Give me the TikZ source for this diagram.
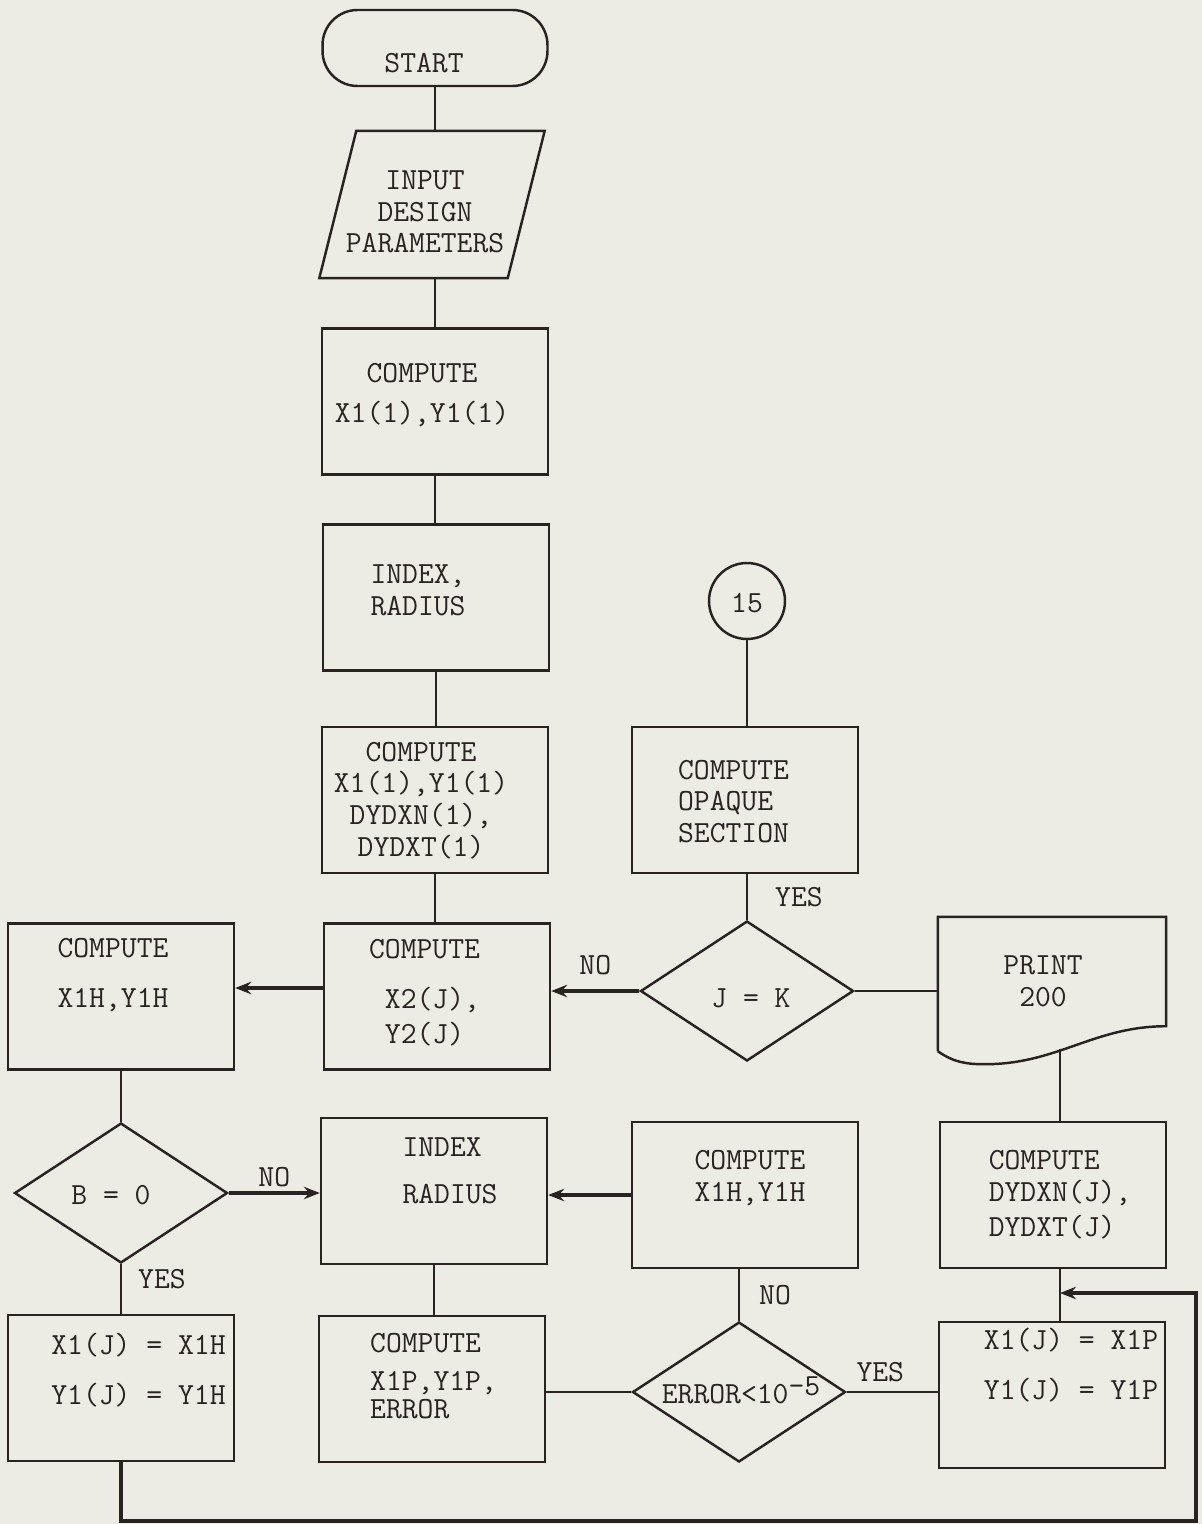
\documentclass[tikz,border=0pt]{standalone}
\usepackage{fontspec}
\usetikzlibrary{shapes.geometric,arrows.meta,positioning}
\definecolor{paper}{RGB}{236,236,228}
\definecolor{ink}{RGB}{40,34,32}
\begin{document}
\begin{tikzpicture}[x=0.02cm, y=-0.02cm, line width=1.4pt, color=ink]
    \tikzstyle{box} = [draw, rectangle, minimum width=4.52cm, minimum height=2.92cm, inner sep=0pt]
    \tikzstyle{dec} = [draw, diamond, minimum width=4.26cm, minimum height=2.8cm, inner sep=0pt]
    \tikzstyle{term} = [draw, rectangle, rounded corners=0.7cm, minimum width=4.5cm, minimum height=1.52cm]
    \tikzstyle{conn} = [draw, circle, minimum size=1.52cm, inner sep=0pt]
    \tikzstyle{blank} = [rectangle, inner sep=0pt]
    \tikzstyle{txt} = [font=\ttfamily\fontsize{17.5}{18}\selectfont, inner sep=0pt, align=center]
    \tikzstyle{ltxt} = [txt, align=left]
    \tikzstyle{lbl} = [font=\ttfamily\fontsize{17.5}{18}\selectfont, inner sep=0pt]
    \tikzstyle{arr} = [-{Stealth[length=9pt,width=7pt]}, line width=1.8pt]
    \fill[paper] (0,0) rectangle (1202,1524);
    % main column
    \node[term] (start) at (435,48) {};
    \node[txt] (startt) at (424,63) {START};
    \node[blank, minimum width=3.72cm, minimum height=2.9cm] (inp) at (432,204.5) {};
    \draw ([xshift=0.37cm]inp.north west) -- ([xshift=0.37cm]inp.north east)
      -- ([xshift=-0.37cm]inp.south east) -- ([xshift=-0.37cm]inp.south west) -- cycle;
    \node[txt] (inpt) at (425,212) {INPUT\\DESIGN\\PARAMETERS};
    \node[box] (b1) at (435,401.5) {};
    \node[txt] (b1t) at (422,395) {COMPUTE\\[4.8pt]X1(1),Y1(1)};
    \node[box] (b2) at (436,597.5) {};
    \node[ltxt] (b2t) at (418,590) {INDEX,\\RADIUS};
    \node[box] (b3) at (435,800) {};
    \node[txt] (b3t) at (421,800.5) {COMPUTE\\X1(1),Y1(1)\\DYDXN(1),\\DYDXT(1)};
    \node[box] (b4) at (437,996.5) {};
    \node[ltxt] (b4t) at (424.5,992.5) {COMPUTE\\[10.5pt]\hphantom{X}X2(J),\\[2pt]\hphantom{X}Y2(J)};
    % left column
    \node[box] (b5) at (121,996.5) {};
    \node[txt] (b5t) at (113,975) {COMPUTE\\[10.5pt]X1H,Y1H};
    \node[dec] (dB) at (121,1193) {};
    \node[txt] (dBt) at (111,1195) {B = 0};
    \node[box] (b7) at (121,1388) {};
    \node[txt] (b7t) at (138.5,1370) {X1(J) = X1H\\[10.5pt]Y1(J) = Y1H};
    % lower row
    \node[box] (b6) at (434,1191) {};
    \node[ltxt] (b6t) at (450,1171) {INDEX\\[8.8pt]RADIUS};
    \node[box] (b8) at (432,1389) {};
    \node[ltxt] (b8t) at (433.5,1376) {COMPUTE\\[4pt]X1P,Y1P,\\[-2pt]ERROR};
    \node[dec] (dE) at (739,1392) {};
    \node[txt] (dEt) at (741,1390) {ERROR<10\raisebox{0.25em}{-5}};
    \node[box] (b9) at (745,1195) {};
    \node[ltxt] (b9t) at (750,1178) {COMPUTE\\X1H,Y1H};
    \node[box] (b10) at (1052,1395) {};
    \node[txt] (b10t) at (1071,1365) {X1(J) = X1P\\[10.5pt]Y1(J) = Y1P};
    \node[box] (b11) at (1053,1195) {};
    \node[ltxt] (b11t) at (1060,1195) {COMPUTE\\DYDXN(J),\\[2pt]DYDXT(J)};
    % right part
    \node[conn] (c15) at (747,601) {};
    \node[txt] (c15t) at (747,603) {15};
    \node[box] (b12) at (745,800) {};
    \node[ltxt] (b12t) at (733.5,801.5) {COMPUTE\\OPAQUE\\SECTION};
    \node[dec] (dJ) at (747,991) {};
    \node[txt] (dJt) at (751,998) {J = K};
    \node[blank, minimum width=4.52cm, minimum height=2.64cm] (prt) at (1052,984) {};
    \draw (prt.south west) -- (prt.north west) -- (prt.north east) -- ([yshift=0.5cm]prt.south east)
      to[out=180,in=0] ([xshift=-1.34cm,yshift=-0.26cm]prt.south) to[out=180,in=-35] (prt.south west);
    \node[txt] (prtt) at (1043,981) {PRINT\\200};
    \coordinate (prtb) at ([xshift=0.16cm,yshift=0.05cm]prt.south);
    \coordinate (join) at (prtb |- 0,1293);
    \coordinate (loopr) at (1196,1521);
    % connectors
    \draw (start.south) -- (start.south |- inp.north);
    \draw (inp.south -| b1.north) -- (b1.north);
    \draw (b1.south) -- (b1.south |- b2.north);
    \draw (b2.south) -- (b2.south |- b3.north);
    \draw (b3.south) -- (b3.south |- b4.north);
    \draw[arr] ([yshift=0.17cm]b4.west) -- ([yshift=0.17cm]b4.west -| b5.east);
    \draw (b5.south) -- (dB.north);
    \draw[arr] (dB.east) -- node[lbl, above=0.1cm] {NO} (dB.east -| b6.west);
    \draw (dB.south) -- node[lbl, right=0.32cm, pos=0.3] {YES} (b7.north);
    \draw (b6.south) -- (b6.south |- b8.north);
    \draw (dE.west -| b8.east) -- (dE.west);
    \draw (dE.east) -- node[lbl, above=0.18cm, xshift=-0.24cm] {YES} (dE.east -| b10.west);
    \draw[arr] (b9.west) -- (b9.west -| b6.east);
    \draw (b9.south -| dE.north) -- node[lbl, right=0.38cm] {NO} (dE.north);
    \draw (c15.south) -- (c15.south |- b12.north);
    \draw (dJ.north |- b12.south) -- node[lbl, right=0.54cm] {YES} (dJ.north);
    \draw[arr] (dJ.west) -- node[lbl, above=0.3cm] {NO} (dJ.west -| b4.east);
    \draw (dJ.east) -- (dJ.east -| prt.west);
    \draw (prtb) -- (prtb |- b11.north);
    \draw (prtb |- b11.south) -- (prtb |- b10.north);
    \draw[arr] (b7.south) |- (loopr) |- (join);
\end{tikzpicture}
\end{document}
